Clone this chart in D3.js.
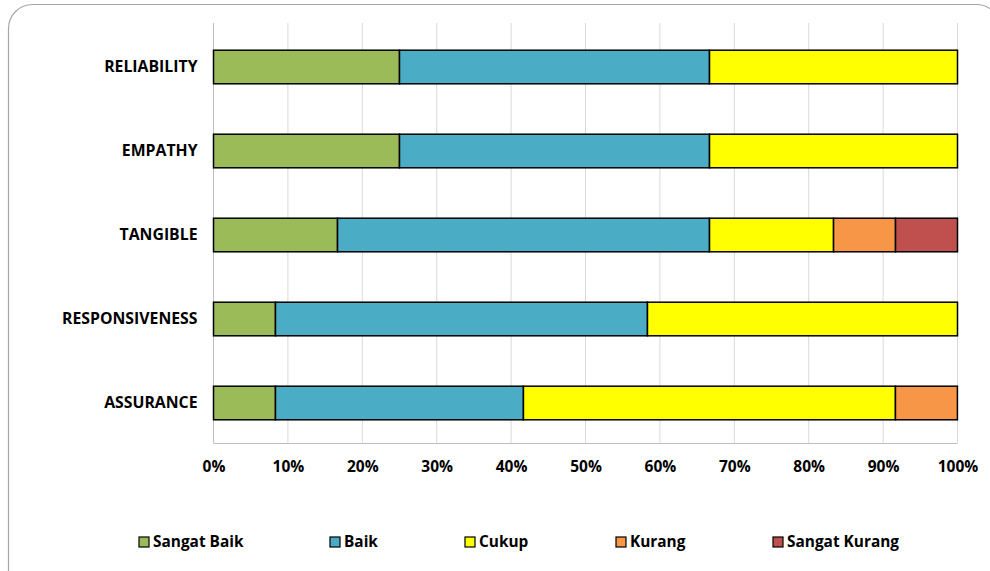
<!DOCTYPE html>
<html><head><meta charset="utf-8">
<script src="https://cdn.jsdelivr.net/npm/d3@7"></script>
<style>
html,body{margin:0;padding:0;background:#fff;}
svg{display:block;}
text{font-family:"Open Sans",Calibri,sans-serif;font-weight:bold;fill:#000;}
</style></head>
<body>
<svg id="chart" width="990" height="571"></svg>
<script>
const categories = ["RELIABILITY","EMPATHY","TANGIBLE","RESPONSIVENESS","ASSURANCE"];
const seriesNames = ["Sangat Baik","Baik","Cukup","Kurang","Sangat Kurang"];
const sangatBaik   = [25, 25, 16.67, 8.33, 8.33];
const baik         = [41.67, 41.67, 50, 50, 33.33];
const cukup        = [33.33, 33.33, 16.67, 41.67, 50];
const kurang       = [0, 0, 8.33, 0, 8.33];
const sangatKurang = [0, 0, 8.33, 0, 0];
const tickLabels = ["0%","10%","20%","30%","40%","50%","60%","70%","80%","90%","100%"];
const colors = ["#9bbb59","#4bacc6","#ffff00","#f79646","#c0504d"];

const seriesValues = [sangatBaik, baik, cukup, kurang, sangatKurang];
const table = categories.map((c,i)=>{
  const o = {cat:c};
  seriesNames.forEach((s,j)=>o[s]=seriesValues[j][i]);
  return o;
});
const stacked = d3.stack().keys(seriesNames)(table);

const svg = d3.select("#chart");
svg.append("rect").attr("x",8.5).attr("y",4.5).attr("width",992).attr("height",590)
  .attr("rx",24).attr("fill","#fff").attr("stroke","#a6a6a6").attr("stroke-width",1.2);

const pLeft=213.5, pRight=957.5, pTop=23, pBottom=443;
const x = d3.scaleLinear().domain([0,100]).range([pLeft,pRight]);
const y = d3.scaleBand().domain(categories).range([pTop+2,pBottom+2]).paddingInner(0.6).paddingOuter(0.3);

// gridlines
svg.append("g").selectAll("line").data(d3.range(0,101,10)).join("line")
  .attr("x1",d=>x(d)).attr("x2",d=>x(d)).attr("y1",pTop).attr("y2",pBottom)
  .attr("stroke",d=>d===0?"#bfbfbf":"#d9d9d9").attr("stroke-width",1);

// bars
svg.append("g").selectAll("g").data(stacked).join("g")
  .attr("fill",(d,i)=>colors[i])
  .selectAll("rect").data(d=>d.filter(p=>p[1]-p[0]>0)).join("rect")
  .attr("x",d=>x(d[0])).attr("width",d=>x(d[1])-x(d[0]))
  .attr("y",d=>y(d.data.cat)).attr("height",y.bandwidth())
  .attr("stroke","#000").attr("stroke-width",1.5);

// bottom axis line
svg.append("line").attr("x1",pLeft).attr("x2",pRight).attr("y1",pBottom+0.5).attr("y2",pBottom+0.5)
  .attr("stroke","#bfbfbf");

// x tick labels
const xAxis = d3.axisBottom(x).tickValues(d3.range(0,101,10))
  .tickFormat((d,i)=>tickLabels[i]).tickSize(0).tickPadding(0);
const gx = svg.append("g").attr("transform",`translate(0,${pBottom})`).call(xAxis);
gx.select(".domain").remove();
gx.selectAll("text").attr("y",18).attr("dy","0.71em").style("font-size","15.5px")
  .style("font-family",'"Open Sans",sans-serif').style("font-weight","bold").attr("fill","#000");

// y labels
const yAxis = d3.axisLeft(y).tickSize(0).tickPadding(16);
const gy = svg.append("g").attr("transform",`translate(${pLeft},0)`).call(yAxis);
gy.select(".domain").remove();
gy.selectAll("text").style("font-size","15.8px")
  .style("font-family",'"Open Sans",sans-serif').style("font-weight","bold").attr("fill","#000");

// legend
const legendX = [139,330,465,616,773];
const lg = svg.append("g").selectAll("g").data(seriesNames).join("g")
  .attr("transform",(d,i)=>`translate(${legendX[i]},537)`);
lg.append("rect").attr("width",10).attr("height",10).attr("fill",(d,i)=>colors[i])
  .attr("stroke","#000").attr("stroke-width",1.2);
lg.append("text").attr("x",14).attr("y",5).attr("dy","0.35em").style("font-size","15.4px")
  .attr("fill","#262626").text(d=>d);
</script>
</body></html>
